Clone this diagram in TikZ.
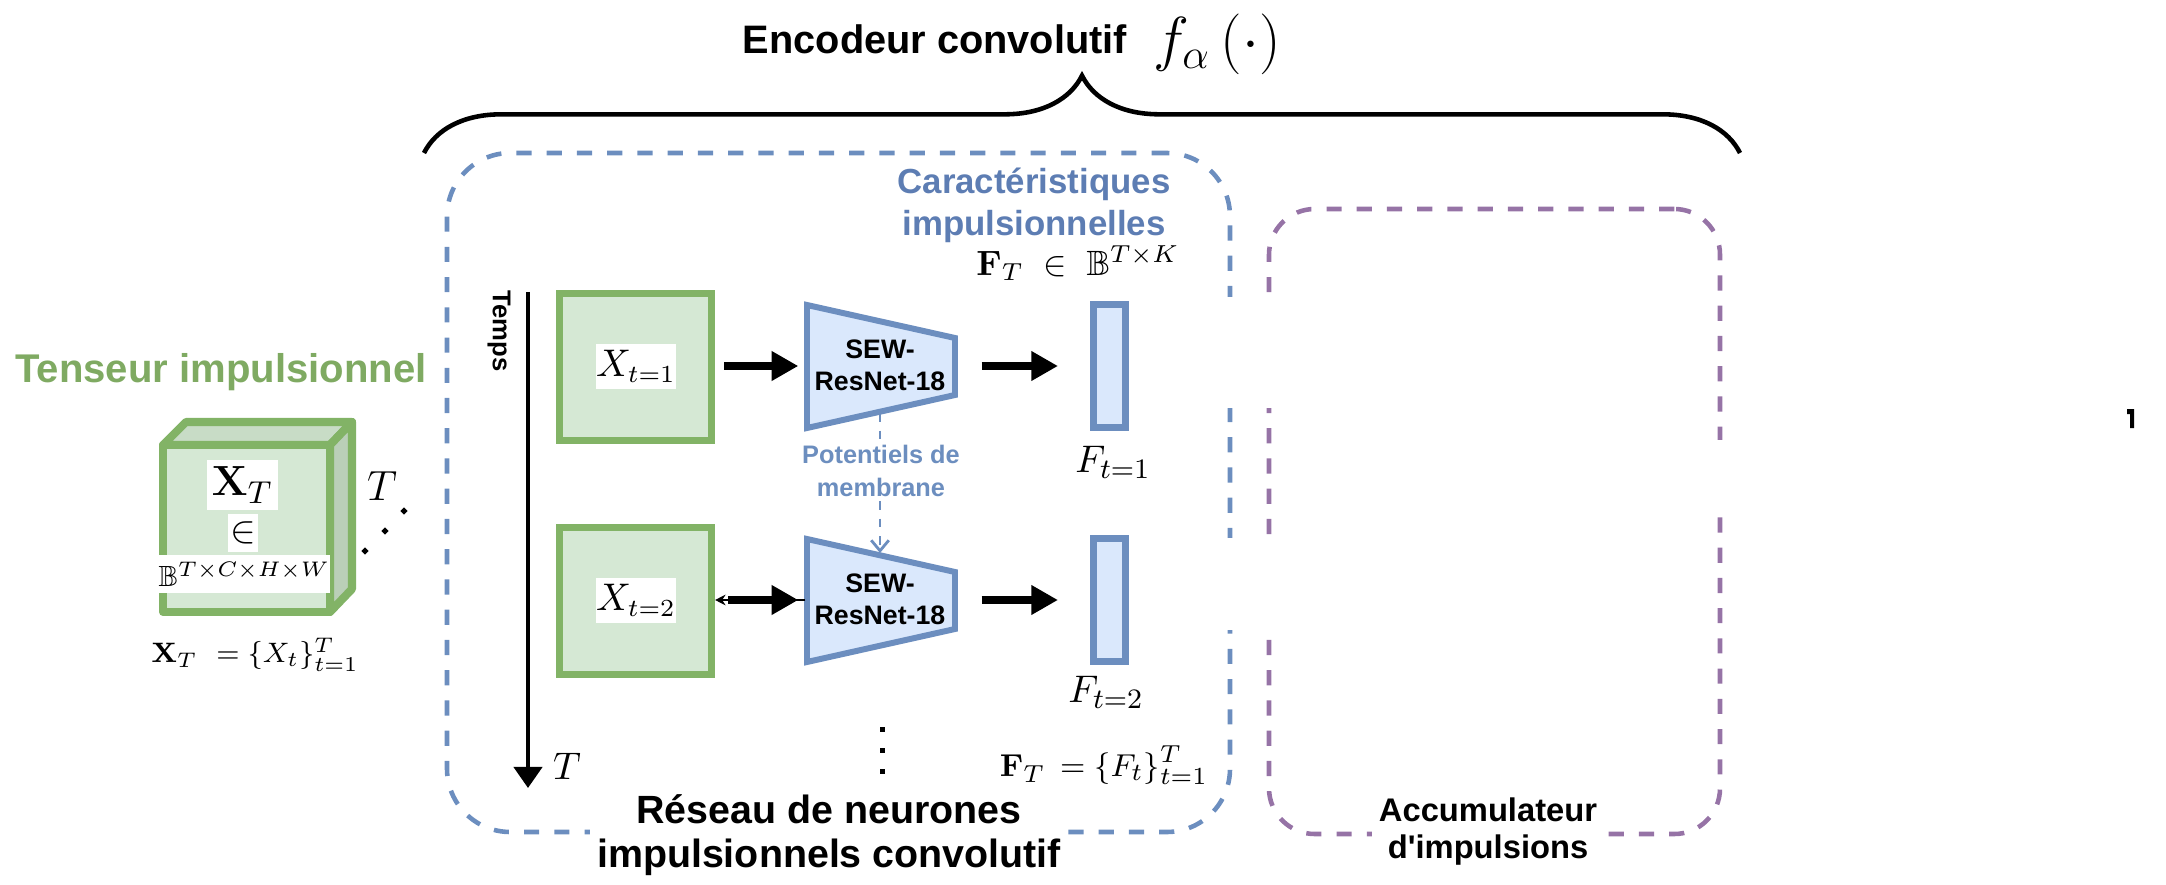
\documentclass[tikz,border=0pt]{standalone}
\usepackage{amsmath,amssymb}
\usepackage[no-math]{fontspec}
\newfontfamily\hv{Liberation Sans}
\usetikzlibrary{arrows.meta,decorations.pathreplacing,shapes.geometric,calc}
\definecolor{grn}{HTML}{82B366}
\definecolor{grnfill}{HTML}{D5E8D4}
\definecolor{grntop}{HTML}{C8DCC6}
\definecolor{grnside}{HTML}{BACFB8}
\definecolor{blu}{HTML}{6C8EBF}
\definecolor{blufill}{HTML}{DAE8FC}
\definecolor{blutext}{HTML}{5D7DB3}
\definecolor{pur}{HTML}{9673A6}
\definecolor{grntext}{HTML}{7FAA62}
\newlength\upx \setlength\upx{0.01cm}
\begin{document}
\begin{tikzpicture}[x=0.01cm,y=-0.01cm,
  inframe/.style={draw=grn, fill=grnfill, line width=2pt, minimum width=152\upx, minimum height=147\upx, inner sep=0pt},
  whitelab/.style={fill=white, inner sep=0pt, minimum width=78\upx, minimum height=45\upx, font=\fontsize{10.5}{12}\selectfont},
  featbar/.style={draw=blu, fill=blufill, line width=2pt, minimum width=32\upx, minimum height=123\upx, inner sep=0pt},
  sewshape/.style={draw=blu, fill=blufill, line width=1.7pt, line join=miter},
  sewtext/.style={font=\hv\bfseries\fontsize{7.6}{9.2}\selectfont, align=center, inner sep=0pt, minimum width=148\upx},
  bigarrow/.style={line width=2.3pt, -{Triangle[length=7.6pt, width=8pt]}},
  dashbox/.style={line width=1.3pt, dash pattern=on 4.3pt off 4.3pt, rounded corners=#1, inner sep=0pt},
  bigsans/.style={font=\hv\bfseries\fontsize{11.3}{13}\selectfont},
  mathlab/.style={font=\fontsize{#1}{#1}\selectfont, inner sep=1pt},
  vdot/.style={fill=black, minimum size=5\upx, inner sep=0pt},
  ddot/.style={diamond, fill=black, minimum size=8\upx, inner sep=0pt}
]
\useasboundingbox (0,0) rectangle (2166,885);

% title and brace
\node[bigsans] (title) at (935,39) {Encodeur convolutif};
\node[mathlab=17] (falpha) at (1217,44) {$f_{\alpha}\,(\cdot)$};
\coordinate (bl) at (424,153);
\coordinate (br) at (1740,153);
\draw[line width=1.3pt, decorate, decoration={brace, amplitude=22pt}] (bl) -- (br);

% container boxes
\node[dashbox=18pt, draw=blu, minimum width=783\upx, minimum height=679\upx] (enc) at (838.5,492.5) {};
\node[dashbox=13pt, draw=pur, minimum width=451\upx, minimum height=625\upx] (acc) at (1494.5,521.5) {};
\fill[white] (1215,297) rectangle (1290,408);
\fill[white] (1215,538) rectangle (1290,630);
\fill[white] (1705,440) rectangle (1735,513);

% stray mark
\fill[black] (2127,409) -- (2134,409) -- (2134,428) -- (2130,428) -- (2130,414) -- (2127,414) -- cycle;

% tensor cube
\node[font=\hv\bfseries\fontsize{11.4}{13}\selectfont, text=grntext] (tens) at (221,372) {Tenseur impulsionnel};
\filldraw[draw=grn, fill=grntop, line width=2.3pt, line join=round] (163,445) -- (186,422) -- (352,422) -- (330,445) -- cycle;
\filldraw[draw=grn, fill=grnside, line width=2.3pt, line join=round] (330,445) -- (352,422) -- (352,589) -- (330,612) -- cycle;
\filldraw[draw=grn, fill=grnfill, line width=2.3pt, line join=round] (163,445) rectangle (330,612);
\node[fill=white, inner sep=0pt, minimum width=71\upx, minimum height=50\upx, font=\fontsize{13}{13}\selectfont] (xt) at (242.5,485) {$\mathbf{X}_T$};
\node[fill=white, inner sep=0pt, minimum width=30\upx, minimum height=38\upx, font=\fontsize{11}{11}\selectfont] (xin) at (243,533) {$\in$};
\node[fill=white, inner sep=0pt, minimum width=137\upx, minimum height=38\upx, font=\fontsize{8.3}{8.3}\selectfont] (xb) at (244.5,574) {$\mathbb{B}^{T\times C\times H\times W}$};
\node[mathlab=13] (tcube) at (382,486) {$T$};
\node[ddot] (c1) at (365,551) {};
\node[ddot] (c2) at (385,531) {};
\node[ddot] (c3) at (404,511) {};
\node[mathlab=8.5] (xset) at (255,655) {$\mathbf{X}_T\ =\{X_t\}_{t=1}^{T}$};

% time axis
\node[font=\hv\bfseries\fontsize{7.3}{8}\selectfont, rotate=-90] (temps) at (499,331) {Temps};
\coordinate (ta) at (528,292);
\coordinate (tb) at (528,788);
\draw[line width=1.2pt, -{Triangle[length=6pt, width=8pt]}] (ta) -- (tb);
\node[mathlab=11] (tT) at (567,766) {$T$};

% rows
\node[inframe] (g1) at (635.5,367) {};
\node[whitelab] (x1) at (636,366) {$X_{t=1}$};
\node[inframe] (g2) at (635.5,601) {};
\node[whitelab] (x2) at (636,600) {$X_{t=2}$};

\draw[sewshape] (807,305) -- (955,338) -- (955,395) -- (807,428) -- cycle;
\draw[sewshape] (807,539) -- (955,572) -- (955,629) -- (807,662) -- cycle;
\node[sewtext] (s1) at (880,365) {SEW-\\ResNet-18};
\node[sewtext] (s2) at (880,599) {SEW-\\ResNet-18};
\coordinate (s1b) at (880,413);
\coordinate (s2t) at (880,553);

\node[featbar] (f1) at (1109.5,366) {};
\node[featbar] (f2) at (1109.5,600) {};
\node[mathlab=11.4] (lf1) at (1113,462) {$F_{t=1}$};
\node[mathlab=11.4] (lf2) at (1106,692) {$F_{t=2}$};

\draw[bigarrow, shorten <=9\upx, shorten >=7\upx] (g1.east |- 0,366) -- (s1.west |- 0,366);
\draw[bigarrow, shorten <=27\upx, shorten >=32\upx] (s1.east |- 0,366) -- (f1.west |- 0,366);
\draw[line width=0.5pt, -{Stealth[length=3pt, width=3pt]}] (s2.west |- 0,600) -- (g2.east |- 0,600);
\draw[bigarrow, shorten <=13\upx, shorten >=7\upx] (g2.east |- 0,600) -- (s2.west |- 0,600);
\draw[bigarrow, shorten <=27\upx, shorten >=32\upx] (s2.east |- 0,600) -- (f2.west |- 0,600);

\draw[blu, line width=0.8pt, dash pattern=on 2.5pt off 2.5pt, -{Straight Barb[length=3pt, width=5pt]}] (s1b) -- (s2t);
\node[font=\hv\bfseries\fontsize{7.2}{9.2}\selectfont, text=blu, fill=white, align=center, inner sep=1pt] (pot) at (881,471) {Potentiels de\\membrane};

\node[vdot] (d1) at (882,729) {};
\node[vdot] (d2) at (882,750) {};
\node[vdot] (d3) at (882,771) {};

\node[font=\hv\bfseries\fontsize{9.9}{11.9}\selectfont, text=blutext, align=center, inner sep=0pt] (car) at (1034,205) {Caractéristiques\\impulsionnelles};
\node[mathlab=10] (ftin) at (1078,263) {$\mathbf{F}_T\;\in\;\mathbb{B}^{T\times K}$};
\node[mathlab=9.3] (ftset) at (1104,765) {$\mathbf{F}_T\,=\{F_t\}_{t=1}^{T}$};

\node[fill=white, align=center, inner sep=2pt, font=\hv\bfseries\fontsize{11.2}{12.6}\selectfont] (snn) at (829,835) {Réseau de neurones\\impulsionnels convolutif};
\node[fill=white, align=center, inner sep=2pt, font=\hv\bfseries\fontsize{9.3}{10.5}\selectfont] (accl) at (1488,832) {Accumulateur\\d'impulsions};
\end{tikzpicture}
\end{document}
